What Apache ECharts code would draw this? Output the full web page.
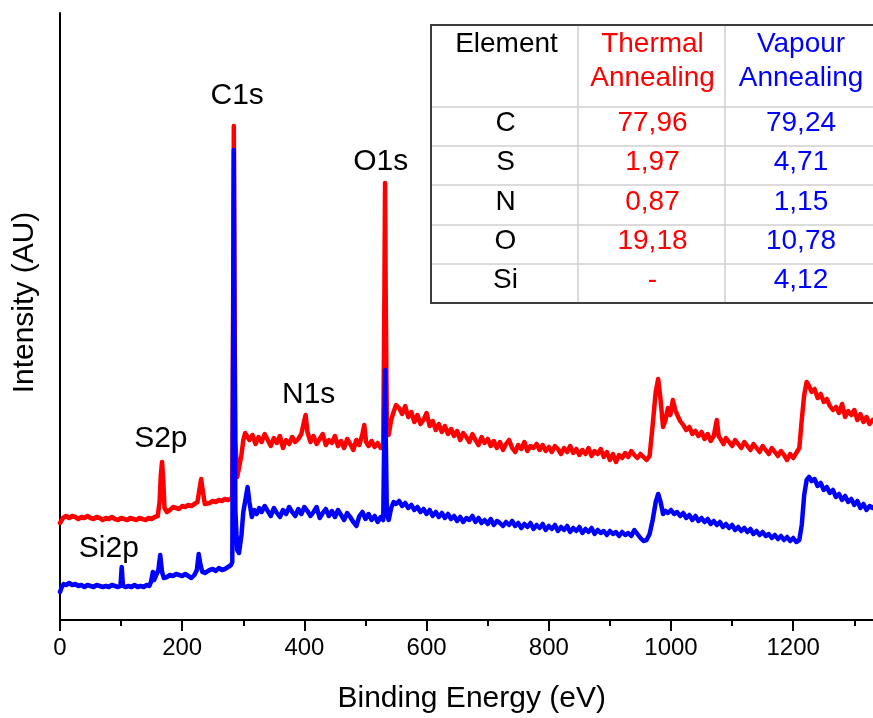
<!DOCTYPE html>
<html>
<head>
<meta charset="utf-8">
<script src="https://cdn.jsdelivr.net/npm/echarts@6/dist/echarts.min.js"></script>
<style>html,body{margin:0;padding:0;background:#fff;overflow:hidden}#c{width:873px;height:718px}</style>
</head>
<body>
<div id="c"></div>
<script>
// ---- DATA ----
// [binding energy (eV), intensity (arb. units)]
const thermalSpectrum = [
[0,97],[5,102],[10,104],[15,102],[20,104],[25,103],[30,101],[35,103],[40,102],[45,104],[50,102],[55,101],[60,103],[65,102],[70,100],[75,102],[80,101],[85,103],[90,101],[95,100],[100,102],[105,101],[110,100],[115,102],[120,101],[125,100],[130,102],[135,101],[140,100],[145,102],[150,101],[155,103],[160,104],[163,118],[165,145],[167,158],[169,140],[171,112],[175,108],[180,110],[185,113],[190,112],[195,111],[200,114],[205,113],[210,115],[215,114],[220,116],[225,118],[228,130],[231,141],[234,128],[237,116],[240,115],[245,117],[250,119],[255,118],[260,120],[265,119],[270,121],[275,120],[280,121],[282,124],[283.5,330],[284.5,494],[285.5,320],[287,180],[290,143],[293,145],[297,165],[300,180],[303,187],[306,184],[310,180],[315,185],[320,176],[325,183],[330,178],[335,186],[340,180],[345,174],[350,182],[355,177],[360,184],[365,172],[370,180],[375,176],[380,183],[385,178],[390,181],[395,186],[400,200],[402,205],[405,188],[410,178],[415,184],[420,176],[425,181],[430,186],[435,175],[440,180],[445,177],[450,184],[455,174],[460,179],[465,172],[470,181],[475,176],[480,170],[485,180],[490,175],[495,186],[498,195],[501,178],[505,174],[510,179],[515,173],[520,177],[525,172],[529,175],[531,330],[532,437],[533,330],[535,190],[538,185],[542,200],[546,208],[550,215],[555,212],[560,206],[565,214],[570,203],[575,208],[580,198],[585,205],[590,196],[595,200],[600,207],[605,194],[610,199],[615,190],[620,196],[625,188],[630,194],[635,186],[640,191],[645,184],[650,189],[655,180],[660,187],[665,183],[670,178],[675,186],[680,180],[685,175],[690,183],[695,177],[700,181],[705,174],[710,179],[715,172],[720,178],[725,170],[730,176],[735,180],[740,172],[745,168],[750,175],[755,171],[760,178],[765,169],[770,174],[775,172],[780,176],[785,170],[790,175],[795,169],[800,173],[805,168],[810,174],[815,171],[820,166],[825,172],[830,168],[835,174],[840,167],[845,171],[850,165],[855,170],[860,166],[865,172],[870,164],[875,169],[880,166],[885,171],[890,163],[895,168],[900,160],[905,166],[910,158],[915,165],[920,162],[925,167],[930,163],[935,169],[940,165],[945,162],[950,166],[955,163],[960,160],[965,164],[970,195],[975,228],[979,241],[983,220],[987,193],[991,200],[995,212],[999,205],[1003,220],[1007,210],[1011,204],[1015,199],[1020,195],[1025,190],[1030,193],[1035,186],[1040,189],[1045,184],[1050,188],[1055,181],[1060,186],[1065,179],[1070,184],[1075,200],[1078,184],[1082,180],[1086,176],[1090,182],[1095,178],[1100,174],[1105,180],[1110,176],[1115,172],[1120,178],[1125,174],[1130,170],[1135,176],[1140,172],[1145,168],[1150,174],[1155,170],[1160,166],[1165,172],[1170,168],[1175,164],[1180,169],[1185,165],[1190,160],[1195,166],[1200,162],[1205,167],[1210,172],[1214,200],[1218,225],[1222,238],[1226,234],[1230,228],[1235,231],[1240,222],[1245,226],[1250,218],[1255,221],[1260,214],[1265,210],[1270,213],[1275,207],[1280,216],[1285,203],[1290,209],[1295,205],[1300,210],[1305,200],[1310,206],[1315,198],[1320,203],[1325,196],[1330,200],[1335,197]
];
const vapourSpectrum = [
[0,28],[3,33],[6,36],[10,35],[15,37],[20,35],[25,36],[30,34],[35,35],[40,33],[45,35],[50,34],[55,33],[60,35],[65,34],[70,33],[75,34],[80,33],[85,35],[90,34],[95,33],[99,34],[101,53],[103,34],[107,33],[112,34],[117,33],[122,35],[127,33],[132,34],[137,33],[142,35],[146,34],[149,38],[152,48],[154,40],[157,38],[161,50],[164,65],[167,48],[170,42],[175,43],[180,45],[185,44],[190,46],[195,45],[200,44],[205,46],[210,44],[215,42],[220,45],[224,50],[227,66],[230,55],[233,48],[237,47],[240,48],[245,50],[250,51],[255,49],[260,52],[265,50],[270,51],[275,53],[280,55],[282,58],[283.5,300],[284.5,470],[285.5,300],[287,110],[290,70],[293,67],[297,85],[300,108],[304,122],[307,133],[310,118],[314,103],[318,110],[322,106],[326,112],[330,108],[335,114],[340,109],[345,104],[350,112],[355,107],[360,103],[365,110],[370,106],[375,113],[380,108],[385,104],[390,111],[395,106],[400,113],[405,109],[410,104],[415,108],[420,113],[425,102],[430,107],[435,111],[440,104],[445,109],[450,103],[455,110],[460,105],[465,100],[470,107],[475,103],[480,98],[485,94],[490,104],[495,108],[500,101],[505,106],[510,100],[515,104],[520,98],[525,103],[529,100],[531,200],[532,250],[533,190],[535,105],[538,100],[542,112],[546,118],[550,116],[555,119],[560,114],[565,117],[570,112],[575,115],[580,110],[585,113],[590,108],[595,111],[600,106],[605,110],[610,104],[615,108],[620,103],[625,107],[630,102],[635,106],[640,101],[645,104],[650,99],[655,103],[660,98],[665,102],[670,100],[675,104],[680,98],[685,102],[690,97],[695,100],[700,96],[705,101],[710,95],[715,99],[720,97],[725,94],[730,98],[735,95],[740,99],[745,94],[750,97],[755,92],[760,96],[765,93],[770,97],[775,91],[780,95],[785,92],[790,96],[795,90],[800,94],[805,91],[810,95],[815,89],[820,93],[825,90],[830,94],[835,88],[840,92],[845,89],[850,93],[855,87],[860,91],[865,88],[870,92],[875,86],[880,90],[885,87],[890,89],[895,85],[900,89],[905,86],[910,88],[915,84],[920,88],[925,85],[930,87],[935,84],[940,90],[945,86],[950,82],[955,79],[960,80],[965,86],[970,100],[975,118],[979,126],[983,118],[987,106],[991,109],[995,107],[1000,110],[1005,106],[1010,108],[1015,104],[1020,107],[1025,102],[1030,105],[1035,100],[1040,104],[1045,99],[1050,102],[1055,98],[1060,101],[1065,96],[1070,99],[1075,95],[1080,98],[1085,93],[1090,96],[1095,92],[1100,95],[1105,90],[1110,93],[1115,89],[1120,92],[1125,88],[1130,91],[1135,86],[1140,89],[1145,85],[1150,88],[1155,84],[1160,86],[1165,82],[1170,85],[1175,81],[1180,84],[1185,80],[1190,83],[1195,79],[1200,82],[1205,78],[1210,80],[1214,95],[1218,125],[1222,140],[1226,143],[1230,139],[1235,141],[1240,134],[1245,137],[1250,130],[1255,133],[1260,127],[1265,130],[1270,123],[1275,126],[1280,120],[1285,124],[1290,118],[1295,121],[1300,115],[1305,119],[1310,112],[1315,116],[1320,110],[1325,114],[1330,112],[1335,115]
];
// peak annotations: label, energy, height where the label sits
const peakNames = ['C1s', 'O1s', 'N1s', 'S2p', 'Si2p'];
const peakLabelEnergy = [290, 525, 407, 165, 80];
const peakLabelHeight = [524, 458, 225, 181, 71];
// composition table
const tableHeader = ['Element', 'Thermal\nAnnealing', 'Vapour\nAnnealing'];
const elements = ['C', 'S', 'N', 'O', 'Si'];
const thermalPct = [77.96, 1.97, 0.87, 19.18, null];
const vapourPct = [79.24, 4.71, 1.15, 10.78, 4.12];
const xTicks = { min: 0, max: 1400, interval: 200 };

// ---- LAYOUT / STYLE ----
const FONT = '"Liberation Sans", Arial, Helvetica, sans-serif';
const RED = '#ff0000', BLUE = '#0000ff';
const fmt = v => v == null ? '-' : v.toFixed(2).replace('.', ',');

const tbl = { left: 431, top: 25, colW: [147, 147, 150], rowH: [82, 39, 39, 40, 39, 39] };
function buildTable() {
  const ch = [];
  const W = tbl.colW.reduce((a, b) => a + b, 0);
  const H = tbl.rowH.reduce((a, b) => a + b, 0);
  const colX = [tbl.left]; tbl.colW.forEach(w => colX.push(colX[colX.length - 1] + w));
  const rowY = [tbl.top]; tbl.rowH.forEach(h => rowY.push(rowY[rowY.length - 1] + h));
  ch.push({ type: 'rect', shape: { x: tbl.left, y: tbl.top, width: W, height: H }, style: { fill: '#fff' } });
  for (let i = 1; i < colX.length - 1; i++)
    ch.push({ type: 'line', shape: { x1: colX[i], y1: tbl.top, x2: colX[i], y2: tbl.top + H }, style: { stroke: '#cfcfcf', lineWidth: 1.5 } });
  for (let j = 1; j < rowY.length - 1; j++)
    ch.push({ type: 'line', shape: { x1: tbl.left, y1: rowY[j], x2: tbl.left + W, y2: rowY[j] }, style: { stroke: '#cfcfcf', lineWidth: 1.5 } });
  ch.push({ type: 'rect', shape: { x: tbl.left, y: tbl.top, width: W, height: H }, style: { fill: null, stroke: '#3c3c3c', lineWidth: 2 } });
  const colColor = ['#000', RED, BLUE];
  const cx = i => (colX[i] + colX[i + 1]) / 2;
  ch.push({ type: 'text', style: { text: tableHeader[0], x: cx(0) + 2, y: 44, align: 'center', verticalAlign: 'middle', fill: '#000', font: '28px ' + FONT } });
  for (let i = 1; i < 3; i++)
    ch.push({ type: 'text', style: { text: tableHeader[i], x: cx(i) + 1, y: 61, align: 'center', verticalAlign: 'middle', fill: colColor[i], font: '28px ' + FONT, lineHeight: 34 } });
  elements.forEach((el, r) => {
    const y = (rowY[r + 1] + rowY[r + 2]) / 2 - 3;
    const vals = [el, fmt(thermalPct[r]), fmt(vapourPct[r])];
    vals.forEach((t, i) => ch.push({ type: 'text', style: { text: t, x: cx(i) + 1, y: y, align: 'center', verticalAlign: 'middle', fill: colColor[i], font: '28px ' + FONT } }));
  });
  return { type: 'group', children: ch, z: 100 };
}

const chart = echarts.init(document.getElementById('c'), null, { renderer: 'canvas' });
chart.setOption({
  animation: false,
  backgroundColor: '#fff',
  grid: { left: 60, top: 13, width: 855.4, height: 607, show: false, containLabel: false, outerBoundsMode: 'none' },
  xAxis: [{
    type: 'value', min: xTicks.min, max: xTicks.max, interval: xTicks.interval,
    name: 'Binding Energy (eV)', nameLocation: 'middle', nameGap: 64,
    nameTextStyle: { fontSize: 30, fontFamily: FONT, color: '#000', padding: [0, 32, 0, 0] },
    axisLine: { show: true, onZero: false, lineStyle: { color: '#000', width: 2 } },
    axisTick: { show: true, inside: false, length: 11, lineStyle: { color: '#000', width: 2 } },
    minorTick: { show: true, splitNumber: 2, length: 6, lineStyle: { color: '#000', width: 2 } },
    axisLabel: { fontSize: 24, fontFamily: FONT, color: '#000', margin: 16, formatter: v => String(v), showMaxLabel: false },
    splitLine: { show: false }
  }, {
    type: 'value', position: 'top', min: xTicks.min, max: xTicks.max,
    axisLine: { show: true, lineStyle: { color: '#000', width: 2 } },
    axisTick: { show: false }, axisLabel: { show: false }, splitLine: { show: false }
  }],
  yAxis: {
    type: 'value', min: 0, max: 607,
    name: 'Intensity (AU)', nameLocation: 'middle', nameGap: 20,
    nameTextStyle: { fontSize: 30, fontFamily: FONT, color: '#000', padding: [0, 0, 0, 28] },
    axisLine: { show: true, onZero: false, lineStyle: { color: '#000', width: 2 } },
    axisTick: { show: false }, axisLabel: { show: false }, splitLine: { show: false }
  },
  series: [
    { name: 'Thermal Annealing', type: 'line', data: thermalSpectrum, showSymbol: false, symbol: 'none',
      lineStyle: { color: RED, width: 4.5, join: 'round', cap: 'round' }, z: 2 },
    { name: 'Vapour Annealing', type: 'line', data: vapourSpectrum, showSymbol: false, symbol: 'none',
      lineStyle: { color: BLUE, width: 4.5, join: 'round', cap: 'round' }, z: 3 },
    { name: 'peaks', type: 'scatter', symbolSize: 0, z: 4, itemStyle: { opacity: 1 },
      data: peakNames.map((n, i) => ({ name: n, value: [peakLabelEnergy[i], peakLabelHeight[i]] })),
      label: { show: true, position: 'inside', formatter: p => p.name, fontSize: 30, fontFamily: FONT, color: '#000', opacity: 1 } }
  ],
  graphic: [buildTable()]
});
</script>
</body>
</html>
